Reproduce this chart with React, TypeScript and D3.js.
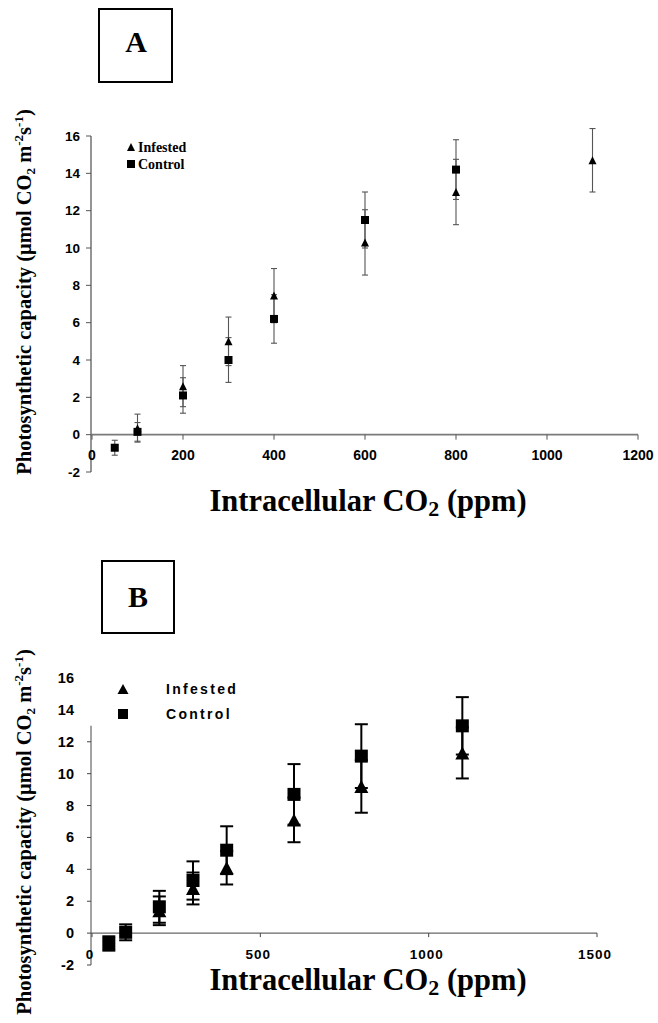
import React from "react";
import * as d3 from "d3";

// ---------- Data ----------
// Panel A
const aInfestedX = [100, 200, 300, 400, 600, 800, 1100];
const aInfestedY = [0.35, 2.6, 5.0, 7.45, 10.3, 13.0, 14.7];
const aInfestedErr = [0.75, 1.1, 1.3, 1.45, 1.75, 1.75, 1.7];
const aControlX = [50, 100, 200, 300, 400, 600, 800];
const aControlY = [-0.7, 0.15, 2.1, 4.0, 6.2, 11.5, 14.2];
const aControlErr = [0.4, 0.5, 0.95, 1.2, 1.3, 1.5, 1.6];
const aXTicks = [0, 200, 400, 600, 800, 1000, 1200];
const aYTicks = [-2, 0, 2, 4, 6, 8, 10, 12, 14, 16];

// Panel B
const bInfestedX = [200, 300, 400, 600, 800, 1100];
const bInfestedY = [1.4, 2.8, 4.1, 7.1, 9.2, 11.3];
const bInfestedErr = [0.9, 1.0, 1.05, 1.4, 1.65, 1.6];
const bControlX = [50, 100, 200, 300, 400, 600, 800, 1100];
const bControlY = [-0.65, 0.05, 1.65, 3.3, 5.2, 8.7, 11.1, 13.0];
const bControlErr = [0.45, 0.5, 1.0, 1.2, 1.5, 1.9, 2.0, 1.8];
const bXTicks = [0, 500, 1000, 1500];
const bYTicks = [-2, 0, 2, 4, 6, 8, 10, 12, 14, 16];
const bYTicksWithMark = [-2, 0, 2, 4, 6, 8, 10, 12];
const bAxisTop = 13;

const SERIF = "'Liberation Serif', 'Times New Roman', serif";
const SANS = "'Liberation Sans', Arial, sans-serif";

const xA = d3.scaleLinear().domain([0, 1200]).range([92, 638]);
const yA = d3.scaleLinear().domain([-2, 16]).range([472, 136]);
const xB = d3.scaleLinear().domain([0, 1500]).range([92, 597]);
const yB = d3.scaleLinear().domain([-2, 16]).range([965, 678]);

function tri(cx: number, cy: number, w: number, h: number) {
  return `M${cx - w / 2},${cy + h / 2}L${cx},${cy - h / 2}L${cx + w / 2},${cy + h / 2}Z`;
}

type Ser = { xs: number[]; ys: number[]; es: number[] };

function ErrBars({ s, x, y, cap, color, sw }: { s: Ser; x: any; y: any; cap: number; color: string; sw: number }) {
  return (
    <g stroke={color} strokeWidth={sw}>
      {s.xs.map((xv, i) => {
        const px = x(xv);
        const top = y(s.ys[i] + s.es[i]);
        const bot = y(s.ys[i] - s.es[i]);
        return (
          <g key={i}>
            <line x1={px} x2={px} y1={top} y2={bot} />
            <line x1={px - cap / 2} x2={px + cap / 2} y1={top} y2={top} />
            <line x1={px - cap / 2} x2={px + cap / 2} y1={bot} y2={bot} />
          </g>
        );
      })}
    </g>
  );
}

function YTitle({ cx, cy }: { cx: number; cy: number }) {
  return (
    <text
      transform={`translate(${cx},${cy}) rotate(-90)`}
      textAnchor="middle"
      fontFamily={SERIF}
      fontWeight="bold"
      fontSize={20.5}
    >
      Photosynthetic capacity (μmol CO
      <tspan fontSize={13} dy={4}>2</tspan>
      <tspan dy={-4}> m</tspan>
      <tspan fontSize={13} dy={-8}>-2</tspan>
      <tspan dy={8}>s</tspan>
      <tspan fontSize={13} dy={-8}>-1</tspan>
      <tspan dy={8}>)</tspan>
    </text>
  );
}

function XTitle({ cx, y }: { cx: number; y: number }) {
  return (
    <text x={cx} y={y} textAnchor="middle" fontFamily={SERIF} fontWeight="bold" fontSize={30.5}>
      Intracellular CO
      <tspan fontSize={22} dy={5}>2</tspan>
      <tspan dy={-5}> (ppm)</tspan>
    </text>
  );
}

export default function App() {
  const aInf: Ser = { xs: aInfestedX, ys: aInfestedY, es: aInfestedErr };
  const aCon: Ser = { xs: aControlX, ys: aControlY, es: aControlErr };
  const bInf: Ser = { xs: bInfestedX, ys: bInfestedY, es: bInfestedErr };
  const bCon: Ser = { xs: bControlX, ys: bControlY, es: bControlErr };

  return (
    <svg
      width={658}
      height={1023}
      style={{ position: "absolute", left: 0, top: 0, background: "#fff" }}
    >
      <rect x={0} y={0} width={658} height={1023} fill="#fff" />

      {/* ================= Panel A ================= */}
      <rect x={99} y={9} width={73} height={73} fill="none" stroke="#000" strokeWidth={2} />
      <text x={136} y={45} textAnchor="middle" dominantBaseline="middle" fontFamily={SERIF} fontWeight="bold" fontSize={30}>
        A
      </text>

      {/* axes */}
      <line x1={xA(0) - 1} x2={xA(0) - 1} y1={yA(16)} y2={yA(-2)} stroke="#7a7a7a" strokeWidth={1.6} />
      <line x1={xA(0) - 1} x2={xA(1200)} y1={yA(0)} y2={yA(0)} stroke="#7a7a7a" strokeWidth={1.6} />
      {aYTicks.map((t) => (
        <g key={"ay" + t}>
          <line x1={xA(0) - 6} x2={xA(0) - 1} y1={yA(t)} y2={yA(t)} stroke="#555" strokeWidth={1} />
          <text x={80} y={yA(t)} textAnchor="end" dominantBaseline="central" fontFamily={SANS} fontWeight="bold" fontSize={13.5}>
            {t}
          </text>
        </g>
      ))}
      {aXTicks.map((t) => (
        <g key={"ax" + t}>
          <line x1={xA(t)} x2={xA(t)} y1={yA(0)} y2={yA(0) + 5} stroke="#555" strokeWidth={1} />
          <text x={xA(t)} y={yA(0) + 25} textAnchor="middle" fontFamily={SANS} fontWeight="bold" fontSize={14}>
            {t}
          </text>
        </g>
      ))}

      <ErrBars s={aInf} x={xA} y={yA} cap={6} color="#555" sw={1.1} />
      <ErrBars s={aCon} x={xA} y={yA} cap={6} color="#555" sw={1.1} />
      {aInfestedX.map((xv, i) => (
        <path key={"ai" + i} d={tri(xA(xv), yA(aInfestedY[i]), 8, 8)} fill="#000" />
      ))}
      {aControlX.map((xv, i) => (
        <rect key={"ac" + i} x={xA(xv) - 4} y={yA(aControlY[i]) - 4} width={8} height={8} fill="#000" />
      ))}

      {/* legend A */}
      <path d={tri(131, 147, 8, 8)} fill="#000" />
      <text x={138} y={147} dominantBaseline="central" fontFamily={SERIF} fontWeight="bold" fontSize={14}>
        Infested
      </text>
      <rect x={127} y={160} width={8} height={8} fill="#000" />
      <text x={138} y={164} dominantBaseline="central" fontFamily={SERIF} fontWeight="bold" fontSize={14}>
        Control
      </text>

      <YTitle cx={31} cy={292} />
      <XTitle cx={368} y={511} />

      {/* ================= Panel B ================= */}
      <rect x={102} y={561} width={72} height={72} fill="none" stroke="#000" strokeWidth={2} />
      <text x={138} y={600} textAnchor="middle" dominantBaseline="middle" fontFamily={SERIF} fontWeight="bold" fontSize={30}>
        B
      </text>

      <line x1={xB(0) - 1} x2={xB(0) - 1} y1={yB(bAxisTop)} y2={yB(-2)} stroke="#666" strokeWidth={1.2} />
      <line x1={xB(0) - 1} x2={xB(1500)} y1={yB(0)} y2={yB(0)} stroke="#666" strokeWidth={1.2} />
      {bYTicksWithMark.map((t) => (
        <line key={"bym" + t} x1={xB(0) - 5} x2={xB(0) - 1} y1={yB(t)} y2={yB(t)} stroke="#444" strokeWidth={1} />
      ))}
      {bYTicks.map((t) => (
        <text key={"by" + t} x={74} y={yB(t)} textAnchor="end" dominantBaseline="central" fontFamily={SANS} fontWeight="bold" fontSize={14.5}>
          {t}
        </text>
      ))}
      {bXTicks.map((t) => (
        <g key={"bx" + t}>
          <line x1={xB(t)} x2={xB(t)} y1={yB(0)} y2={yB(0) + 4} stroke="#444" strokeWidth={1} />
          <text x={xB(t) - 2} y={yB(0) + 26} textAnchor="middle" fontFamily={SANS} fontWeight="bold" fontSize={13.5} letterSpacing={1}>
            {t}
          </text>
        </g>
      ))}

      <ErrBars s={bInf} x={xB} y={yB} cap={13} color="#000" sw={2} />
      <ErrBars s={bCon} x={xB} y={yB} cap={13} color="#000" sw={2} />
      {bInfestedX.map((xv, i) => (
        <path key={"bi" + i} d={tri(xB(xv), yB(bInfestedY[i]), 14, 13)} fill="#000" />
      ))}
      {bControlX.map((xv, i) => (
        <rect key={"bc" + i} x={xB(xv) - 6.5} y={yB(bControlY[i]) - 6.5} width={13} height={13} fill="#000" />
      ))}

      {/* legend B */}
      <path d={tri(123, 689, 11, 10)} fill="#000" />
      <text x={166} y={689} dominantBaseline="central" fontFamily={SANS} fontWeight="bold" fontSize={14} letterSpacing={2.3}>
        Infested
      </text>
      <rect x={118} y={709} width={10} height={10} fill="#000" />
      <text x={166} y={714} dominantBaseline="central" fontFamily={SANS} fontWeight="bold" fontSize={14} letterSpacing={2.3}>
        Control
      </text>

      <YTitle cx={31} cy={832} />
      <XTitle cx={368} y={990} />
    </svg>
  );
}
